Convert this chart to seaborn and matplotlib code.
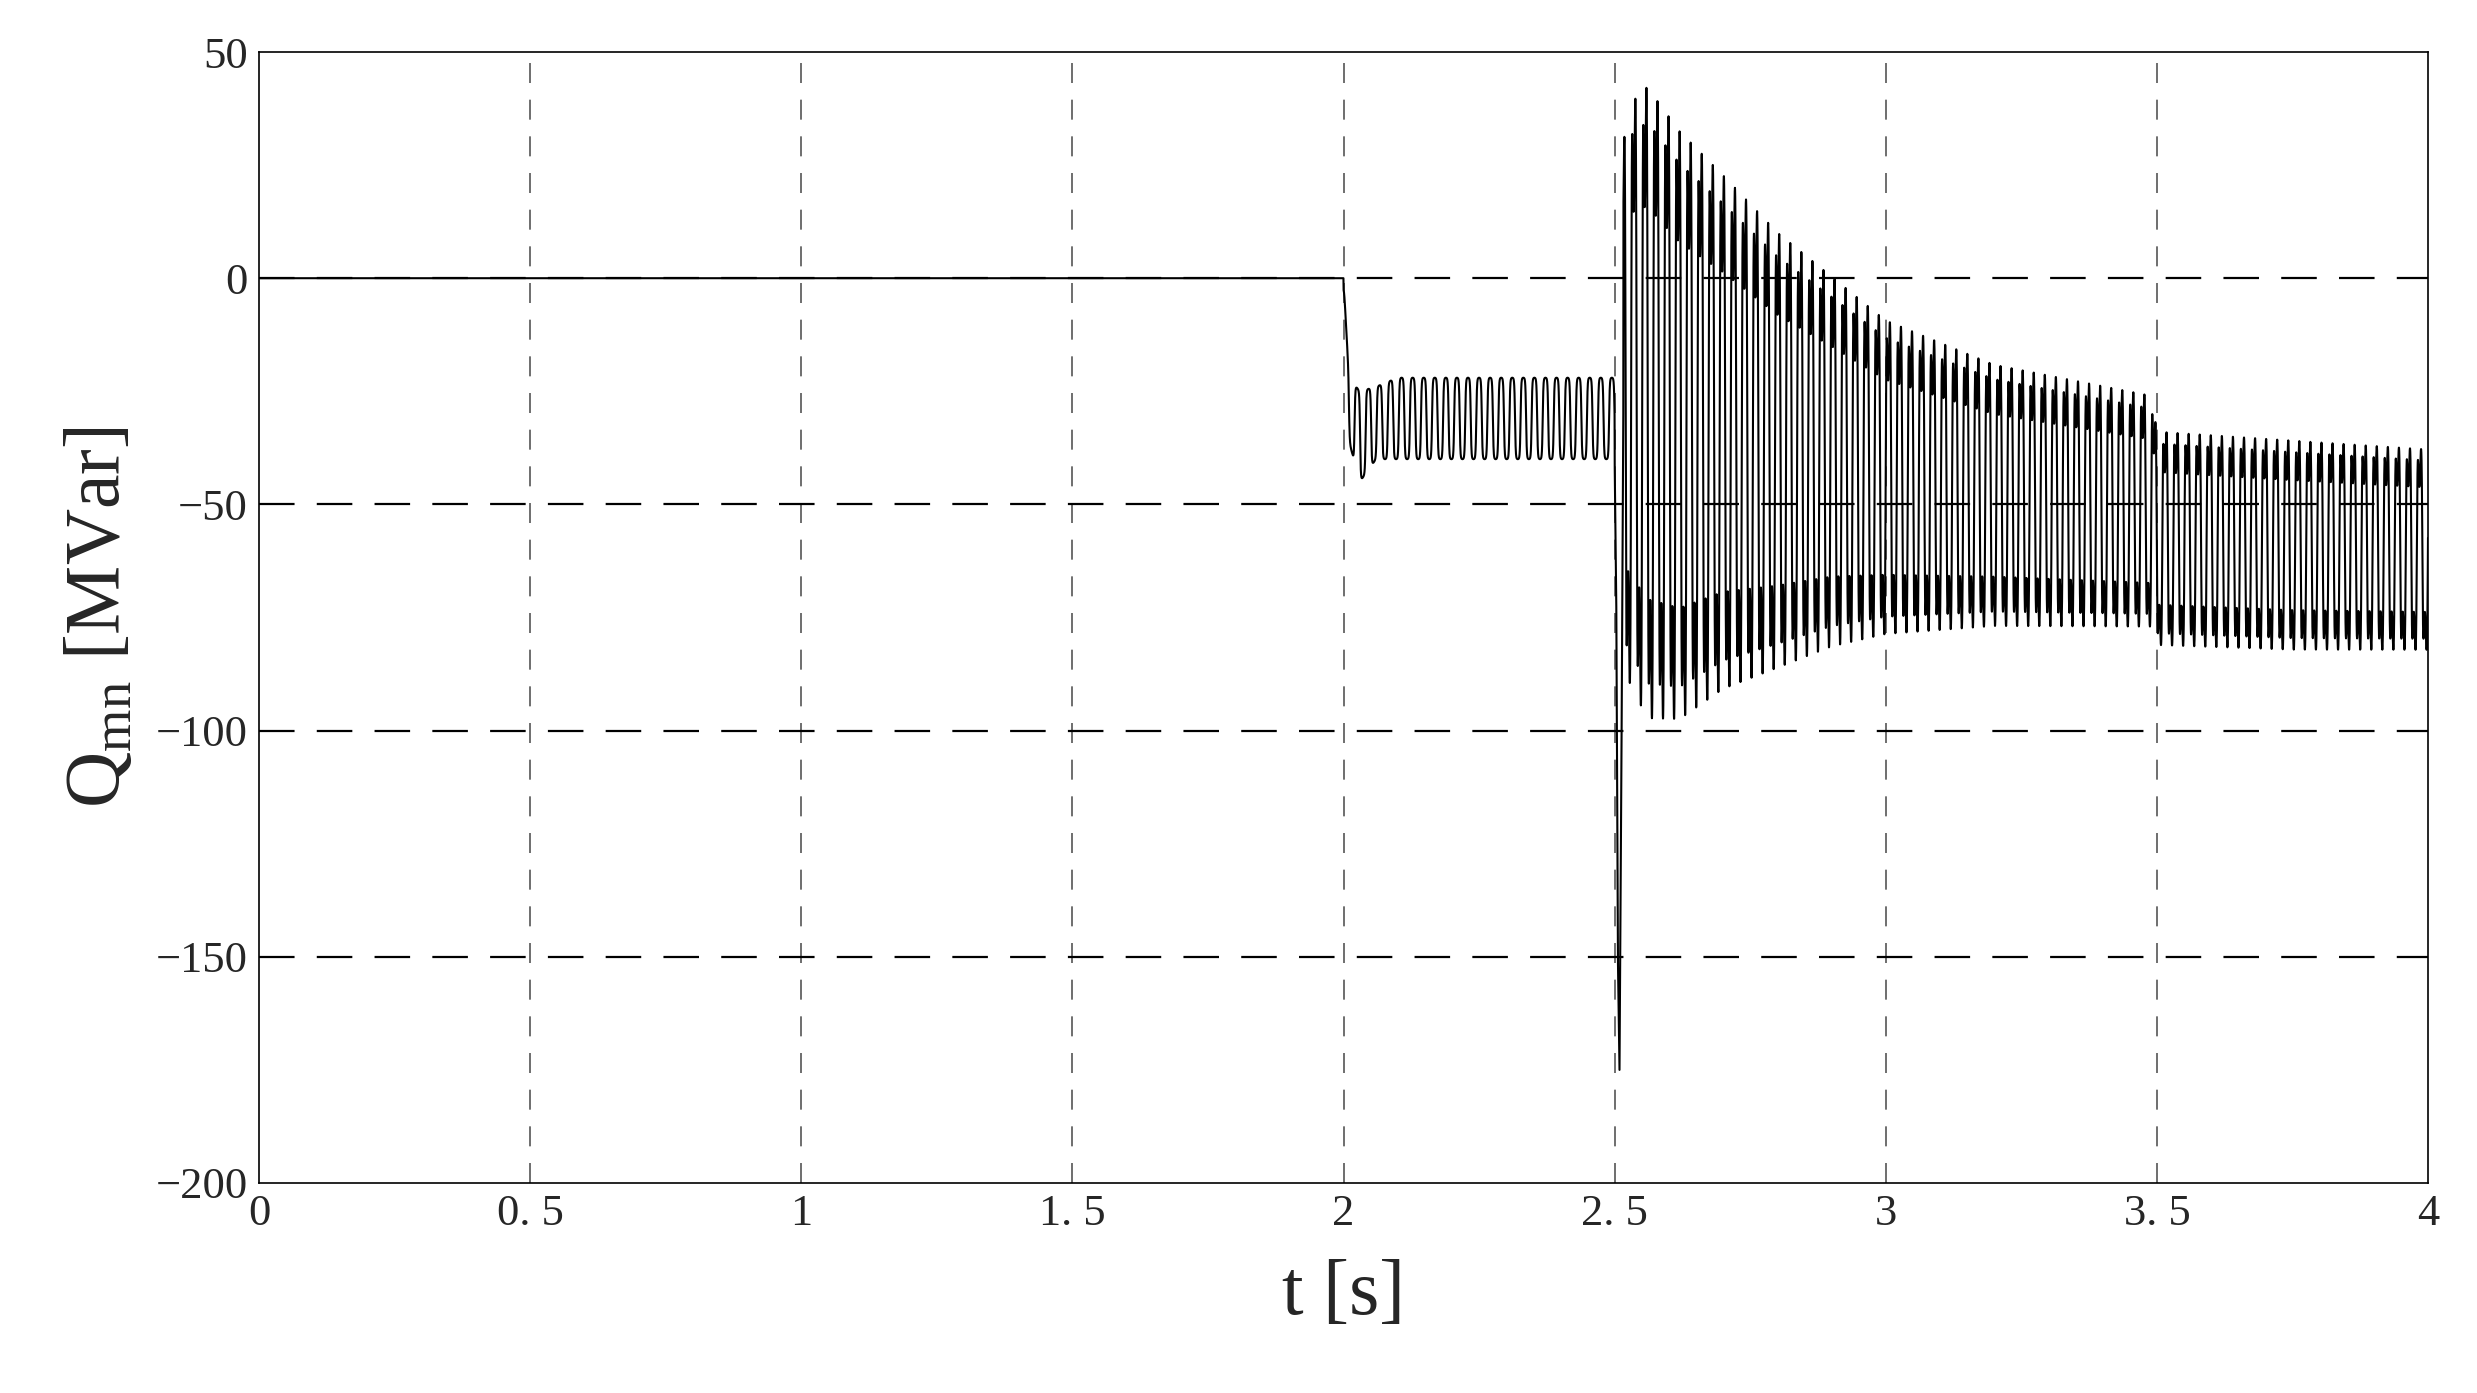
import numpy as np
import pandas as pd
import matplotlib
matplotlib.use("Agg")
import matplotlib.pyplot as plt
import seaborn as sns

# Envelope (time [s], upper [MVar], lower [MVar])
env_t     = [2.00, 2.01, 2.03, 2.06, 2.10, 2.50, 2.52, 2.56, 2.62, 2.70, 2.80, 2.90, 3.00, 3.20, 3.49, 3.50, 3.75, 4.00]
env_upper = [0.0, -22.0, -25.0, -24.0, -22.0, -22.0, 40.0, 45.0, 35.0, 25.0, 12.0, 2.0, -8.0, -18.0, -25.0, -33.0, -35.0, -37.0]
env_lower = [-5.0, -36.0, -45.0, -40.0, -40.0, -40.0, -90.0, -100.0, -100.0, -93.0, -88.0, -83.0, -80.0, -78.0, -78.0, -82.0, -83.0, -83.0]
osc_freq_hz = 49.0
# Fault spike near t = 2.5 s
spike_t = [2.500, 2.503, 2.506, 2.509, 2.512, 2.516]
spike_q = [-40.0, -70.0, -150.0, -175.0, -120.0, -30.0]

t = np.linspace(0, 4, 40001)
up = np.interp(t, env_t, env_upper)
lo = np.interp(t, env_t, env_lower)
mid = (up + lo) / 2
half = (up - lo) / 2
ph = 2 * np.pi * osc_freq_hz * (t - 2.0)
wave = np.tanh(2.5 * np.sin(ph)) / np.tanh(2.5)
wave = np.where(t > 2.5, 0.8 * wave + 0.2 * np.sin(3 * ph + 0.6), wave)
q = np.where(t < 2.0, 0.0, mid + half * wave)
mask = (t >= spike_t[0]) & (t <= spike_t[-1])
q[mask] = np.interp(t[mask], spike_t, spike_q)
df = pd.DataFrame({"t": t, "q": q})

sns.set_theme(style="white")
plt.rcParams["font.family"] = ["Liberation Serif", "DejaVu Serif"]
plt.rcParams["mathtext.fontset"] = "custom"
plt.rcParams["mathtext.rm"] = "Liberation Serif"

fig = plt.figure(figsize=(24.77, 13.93), dpi=100)
ax = fig.add_axes([259 / 2477, 1 - 1183 / 1393, (2428 - 259) / 2477, (1183 - 52) / 1393])
sns.lineplot(data=df, x="t", y="q", ax=ax, color="black", linewidth=1.5, estimator=None)

ax.set_xlim(0, 4)
ax.set_ylim(-200, 50)
xt = [0, 0.5, 1, 1.5, 2, 2.5, 3, 3.5, 4]
xl = ["0", "0. 5", "1", "1. 5", "2", "2. 5", "3", "3. 5", "4"]
yt = [-200, -150, -100, -50, 0, 50]
yl = ["\u2212200", "\u2212150", "\u2212100", "\u221250", "0", "50"]
ax.set_xticks(xt)
ax.set_xticklabels(xl, fontsize=32)
ax.set_yticks(yt)
ax.set_yticklabels(yl, fontsize=32)
for x in xt[1:-1]:
    ax.axvline(x, color="#555555", lw=1.2, ls=(0, (12, 10)), zorder=0)
for y in yt[1:-1]:
    ax.axhline(y, color="black", lw=1.6, ls=(0, (16, 10)), zorder=0)
ax.tick_params(direction="in", length=0, pad=8)
for s in ax.spines.values():
    s.set_color("black")
    s.set_linewidth(1.2)
ax.set_xlabel("t [s]", fontsize=56, labelpad=18)
ax.set_ylabel(r"Q$_{\mathrm{mn}}$ [MVar]", fontsize=56, labelpad=14)
fig.savefig("out.png", dpi=100, facecolor="white")
